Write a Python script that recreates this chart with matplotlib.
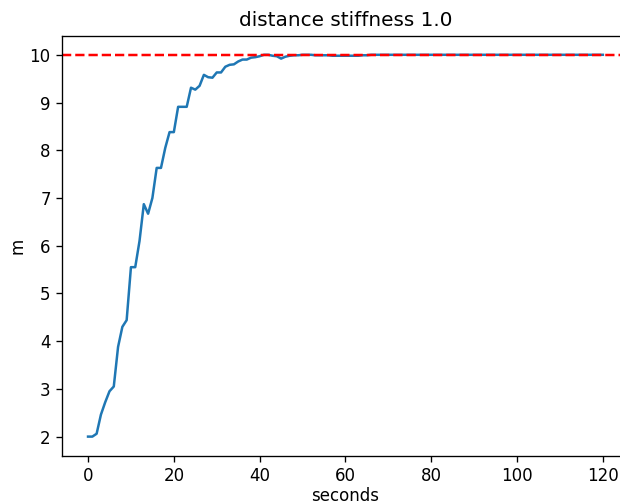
import matplotlib
matplotlib.use("Agg")
import matplotlib.pyplot as plt
import numpy as np

s = 1.2
plt.rcParams.update({
    "font.size": 10 * s,
    "axes.titlesize": 12 * s,
    "axes.labelsize": 10 * s,
    "xtick.labelsize": 10 * s,
    "ytick.labelsize": 10 * s,
    "lines.linewidth": 1.5 * s,
    "axes.linewidth": 0.8 * s,
    "xtick.major.size": 3.5 * s,
    "ytick.major.size": 3.5 * s,
    "xtick.major.width": 0.8 * s,
    "ytick.major.width": 0.8 * s,
    "xtick.major.pad": 3.5 * s,
    "ytick.major.pad": 3.5 * s,
    "axes.titlepad": 6 * s,
    "axes.labelpad": 4 * s,
})

title = "distance stiffness 1.0"
target = 10.0
rise = [2.0, 2.0, 2.06, 2.46, 2.72, 2.95, 3.05, 3.88, 4.3, 4.44,
        5.55, 5.55, 6.1, 6.87, 6.67, 7.0, 7.63, 7.63, 8.05, 8.38,
        8.38, 8.91, 8.91, 8.91, 9.31, 9.27, 9.35, 9.58, 9.53, 9.52,
        9.63, 9.63, 9.75, 9.79, 9.8, 9.86, 9.9, 9.9, 9.94, 9.95,
        9.97, 10.0, 10.0, 9.98, 9.97, 9.92, 9.96, 9.98, 9.99, 9.99,
        10.0, 10.0, 10.0, 9.99, 9.99, 9.99, 9.99, 9.98, 9.98, 9.98,
        9.98, 9.98, 9.98, 9.98, 9.99, 9.99, 10.0]
tail = [10.0] * (121 - len(rise))
distance = rise + tail
seconds = list(range(len(distance)))

fig = plt.figure(figsize=(6.2, 5.04), dpi=100)
ax = fig.add_axes([62.3 / 620, (504 - 455.7) / 504, 566.3 / 620, 420 / 504])
ax.plot(seconds, distance, color="#1f77b4")
ax.axhline(target, color="red", linestyle="--")
ax.set_title(title)
ax.set_xlabel("seconds", labelpad=1.5)
ax.set_ylabel("m", labelpad=2)
fig.savefig("out.png", dpi=100)
